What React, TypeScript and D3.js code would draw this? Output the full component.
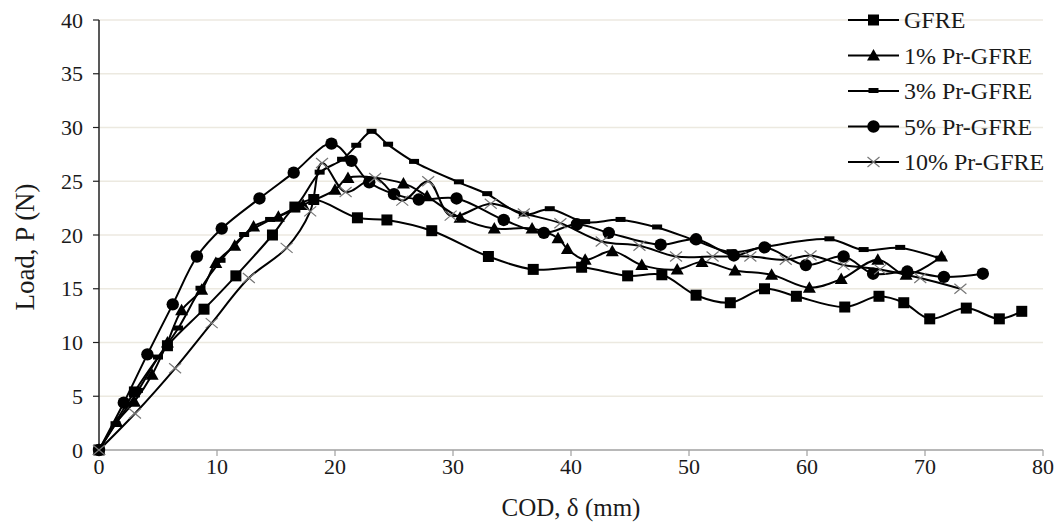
import React from "react";
import * as d3 from "d3";

const xTicks = [0, 10, 20, 30, 40, 50, 60, 70, 80];
const yTicks = [0, 5, 10, 15, 20, 25, 30, 35, 40];

const gfreX = [0, 3.0, 5.8, 8.9, 11.6, 14.7, 16.6, 18.2, 21.9, 24.4, 28.2, 33.0, 36.8, 40.9, 44.8, 47.7, 50.6, 53.5, 56.4, 59.1, 63.2, 66.1, 68.2, 70.4, 73.5, 76.3, 78.2];
const gfreY = [0, 5.4, 9.7, 13.1, 16.2, 20.0, 22.6, 23.3, 21.6, 21.4, 20.4, 18.0, 16.8, 17.0, 16.2, 16.3, 14.4, 13.7, 15.0, 14.3, 13.3, 14.3, 13.7, 12.2, 13.2, 12.2, 12.9];

const pr1X = [0, 1.5, 3.0, 4.5, 5.8, 7.0, 8.7, 9.9, 11.5, 13.1, 15.2, 17.3, 20.0, 21.1, 25.8, 27.8, 30.6, 33.5, 36.7, 38.9, 39.7, 41.2, 43.5, 46.0, 49.0, 51.1, 53.9, 57.0, 60.2, 62.9, 66.0, 68.4, 71.4];
const pr1Y = [0, 2.6, 4.5, 7.0, 10.0, 13.0, 14.9, 17.4, 19.0, 20.8, 21.7, 22.8, 24.2, 25.3, 24.8, 23.6, 21.6, 20.6, 20.6, 19.7, 18.7, 17.7, 18.5, 17.2, 16.8, 17.5, 16.7, 16.3, 15.1, 15.9, 17.7, 16.3, 18.0];

const pr3X = [0, 1.4, 3.3, 5.0, 6.7, 8.6, 10.3, 12.3, 14.5, 16.6, 18.7, 20.6, 21.8, 23.1, 24.5, 26.7, 30.5, 32.9, 36.0, 38.2, 41.2, 44.2, 47.3, 50.5, 53.6, 56.5, 61.9, 64.8, 67.9, 71.3];
const pr3Y = [0, 2.4, 5.5, 8.6, 11.3, 15.0, 17.6, 20.0, 21.4, 22.6, 25.8, 27.0, 28.3, 29.6, 28.4, 26.8, 24.9, 23.8, 21.9, 22.4, 21.2, 21.4, 20.7, 19.5, 18.4, 18.9, 19.6, 18.6, 18.8, 17.8];

const pr5X = [0, 2.1, 4.1, 6.25, 8.3, 10.4, 13.6, 16.5, 19.7, 21.4, 22.9, 25.0, 27.1, 30.3, 34.3, 37.7, 40.5, 43.2, 47.6, 50.6, 53.8, 56.4, 59.9, 63.1, 65.6, 68.5, 71.6, 74.9];
const pr5Y = [0, 4.4, 8.9, 13.55, 18.0, 20.6, 23.4, 25.8, 28.5, 26.9, 24.9, 23.8, 23.3, 23.4, 21.4, 20.2, 21.0, 20.2, 19.1, 19.6, 18.1, 18.85, 17.2, 18.0, 16.4, 16.6, 16.1, 16.4];

const pr10X = [0, 3.05, 6.45, 9.55, 12.7, 15.9, 17.9, 18.9, 20.9, 23.4, 25.7, 27.9, 29.8, 33.2, 36.0, 39.1, 42.6, 45.8, 48.9, 52.0, 55.2, 58.2, 60.3, 63.1, 66.2, 69.6, 73.0];
const pr10Y = [0, 3.4, 7.6, 11.8, 16.0, 18.8, 22.2, 26.7, 24.0, 25.3, 23.2, 25.0, 21.8, 22.9, 22.0, 21.1, 19.4, 19.0, 18.0, 18.0, 18.0, 17.7, 18.1, 17.2, 16.8, 16.0, 15.0];

const seriesNames = ["GFRE", "1% Pr-GFRE", "3% Pr-GFRE", "5% Pr-GFRE", "10% Pr-GFRE"];
const seriesMarkers = ["square", "triangle", "dash", "circle", "cross"];

const W = 1060, H = 526;
const L = 99, R = 1043, T = 20, B = 450;
const FONT = "'Liberation Serif', 'Times New Roman', serif";

function Marker({ type, x, y }: { type: string; x: number; y: number }) {
  if (type === "square") return <rect x={x - 5.5} y={y - 5.5} width={11} height={11} fill="#000" />;
  if (type === "triangle") return <path d={`M${x},${y - 6.5} L${x + 6.5},${y + 5} L${x - 6.5},${y + 5} Z`} fill="#000" />;
  if (type === "dash") return <rect x={x - 5} y={y - 3} width={10} height={5} fill="#000" />;
  if (type === "circle") return <circle cx={x} cy={y} r={6.2} fill="#000" />;
  return (
    <path d={`M${x - 6},${y - 5} L${x + 6},${y + 5} M${x - 6},${y + 5} L${x + 6},${y - 5}`} stroke="#777" strokeWidth={1.2} fill="none" />
  );
}

export default function App() {
  const xs = d3.scaleLinear().domain([0, 80]).range([L, R]);
  const ys = d3.scaleLinear().domain([0, 40]).range([B, T]);
  const all = [
    [gfreX, gfreY],
    [pr1X, pr1Y],
    [pr3X, pr3Y],
    [pr5X, pr5Y],
    [pr10X, pr10Y],
  ];
  const line = d3
    .line<[number, number]>()
    .x((d) => xs(d[0]))
    .y((d) => ys(d[1]))
    .curve(d3.curveCatmullRom.alpha(0.5));

  return (
    <svg width={W} height={H} style={{ position: "absolute", left: 0, top: 0, background: "#fff" }} fontFamily={FONT}>
      {yTicks.filter((t) => t > 0).map((t) => (
        <line key={"g" + t} x1={L} x2={R} y1={ys(t)} y2={ys(t)} stroke="#ece9e0" strokeWidth={1.5} />
      ))}
      {/* x axis */}
      <line x1={L} x2={R} y1={B} y2={B} stroke="#a0a0a0" strokeWidth={1.5} />
      {xTicks.map((t) => (
        <g key={"x" + t}>
          <line x1={xs(t)} x2={xs(t)} y1={B} y2={B + 6} stroke="#a0a0a0" strokeWidth={1.2} />
          <text x={xs(t)} y={B + 24} textAnchor="middle" fontSize={22} fill="#1a1a1a">{t}</text>
        </g>
      ))}
      {/* y axis */}
      <line x1={L} x2={L} y1={T} y2={B} stroke="#222" strokeWidth={1.5} />
      {yTicks.map((t) => (
        <g key={"y" + t}>
          <line x1={L - 6} x2={L} y1={ys(t)} y2={ys(t)} stroke="#222" strokeWidth={1.2} />
          <text x={L - 16} y={ys(t) + 7.5} textAnchor="end" fontSize={22} fill="#1a1a1a">{t}</text>
        </g>
      ))}
      <text transform={`translate(34,${(T + B) / 2 + 12}) rotate(-90)`} textAnchor="middle" fontSize={27} fill="#1a1a1a">Load, P (N)</text>
      <text x={571} y={516} textAnchor="middle" fontSize={25} fill="#1a1a1a">COD, δ (mm)</text>

      {all.map(([xa, ya], i) => {
        const pts = xa.map((x, j) => [x, ya[j]] as [number, number]);
        return (
          <g key={"s" + i}>
            <path d={line(pts) || ""} fill="none" stroke="#000" strokeWidth={2} />
            {pts.map((p, j) => (
              <Marker key={j} type={seriesMarkers[i]} x={xs(p[0])} y={ys(p[1])} />
            ))}
          </g>
        );
      })}

      {seriesNames.map((n, i) => {
        const y = 20 + i * 35.5;
        return (
          <g key={"l" + i}>
            <line x1={848} x2={899} y1={y} y2={y} stroke="#000" strokeWidth={2} />
            <Marker type={seriesMarkers[i]} x={873.5} y={y} />
            <text x={904} y={y + 8} fontSize={24} fill="#1a1a1a">{n}</text>
          </g>
        );
      })}
    </svg>
  );
}
